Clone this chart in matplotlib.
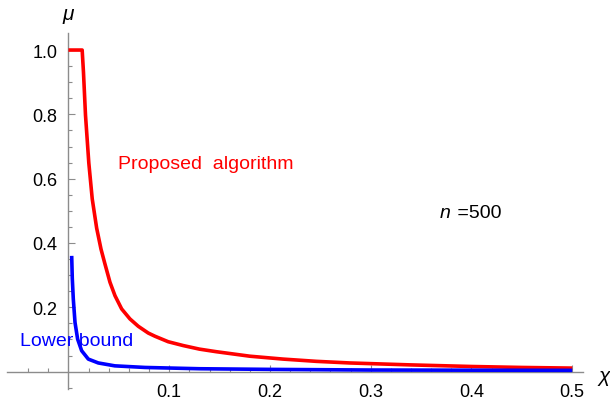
import matplotlib
matplotlib.use("Agg")
import matplotlib.pyplot as plt
from matplotlib.ticker import FixedLocator, NullFormatter

# Data
red_x = [0.0, 0.0136, 0.0149, 0.0169, 0.0202, 0.0236, 0.028, 0.0323, 0.0362, 0.0412,
         0.0462, 0.0528, 0.061, 0.0693, 0.0792, 0.0859, 0.099, 0.114, 0.13, 0.1467,
         0.180, 0.213, 0.246, 0.279, 0.339, 0.40, 0.45, 0.5]
red_y = [1.0, 1.0, 0.931, 0.798, 0.649, 0.537, 0.446, 0.381, 0.335, 0.278,
         0.236, 0.195, 0.164, 0.141, 0.120, 0.110, 0.093, 0.081, 0.070, 0.062,
         0.048, 0.039, 0.032, 0.027, 0.021, 0.016, 0.013, 0.011]

blue_x = [0.0032, 0.0038, 0.0048, 0.0065, 0.0091, 0.0131, 0.0197, 0.0296, 0.046,
          0.076, 0.13, 0.2, 0.3, 0.4, 0.5]
blue_y = [0.360, 0.290, 0.226, 0.153, 0.101, 0.065, 0.039, 0.027, 0.018,
          0.013, 0.009, 0.007, 0.005, 0.0045, 0.004]

x_major = [0.1, 0.2, 0.3, 0.4, 0.5]
x_major_labels = ["0.1", "0.2", "0.3", "0.4", "0.5"]
x_minor = [-0.04, -0.02, 0.02, 0.04, 0.06, 0.08, 0.12, 0.14, 0.16, 0.18,
           0.22, 0.24, 0.26, 0.28, 0.32, 0.34, 0.36, 0.38, 0.42, 0.44, 0.46, 0.48]
y_major = [0.2, 0.4, 0.6, 0.8, 1.0]
y_major_labels = ["0.2", "0.4", "0.6", "0.8", "1.0"]
y_minor = [-0.05, 0.05, 0.1, 0.15, 0.25, 0.3, 0.35, 0.45, 0.5, 0.55,
           0.65, 0.7, 0.75, 0.85, 0.9, 0.95]

plt.rcParams['font.family'] = ['Liberation Sans', 'DejaVu Sans']

W, H = 610, 402
fig = plt.figure(figsize=(W / 100, H / 100), dpi=100)
ax = fig.add_axes([7 / W, (H - 390) / H, 576 / W, 356 / H])
ax.set_xlim(-0.061, 0.5107)
ax.set_ylim(-0.054, 1.053)

gray = '#8c8c8c'
for s in ['top', 'right']:
    ax.spines[s].set_visible(False)
ax.spines['left'].set_position(('data', 0))
ax.spines['bottom'].set_position(('data', 0))
for s in ['left', 'bottom']:
    ax.spines[s].set_color(gray)
    ax.spines[s].set_linewidth(1.0)

ax.plot(red_x, red_y, color='#ff0000', lw=2.6, solid_capstyle='butt',
        solid_joinstyle='round', zorder=3)
ax.plot(blue_x, blue_y, color='#0000ff', lw=2.6, solid_capstyle='butt',
        solid_joinstyle='round', zorder=3)

ax.xaxis.set_major_locator(FixedLocator(x_major))
ax.set_xticklabels(x_major_labels)
ax.xaxis.set_minor_locator(FixedLocator(x_minor))
ax.yaxis.set_major_locator(FixedLocator(y_major))
ax.set_yticklabels(y_major_labels)
ax.yaxis.set_minor_locator(FixedLocator(y_minor))
ax.xaxis.set_minor_formatter(NullFormatter())
ax.yaxis.set_minor_formatter(NullFormatter())

ax.tick_params(which='major', direction='in', length=4.8, width=0.8, color=gray,
               labelsize=13, labelcolor='black')
ax.tick_params(which='minor', direction='in', length=2.8, width=0.8, color=gray)
ax.tick_params(axis='x', which='major', pad=8)
ax.tick_params(axis='y', which='major', pad=8)

ax.text(0.0491, 0.646, "Proposed  algorithm", color='#ff0000', fontsize=14,
        ha='left', va='center')
ax.text(-0.0481, 0.096, "Lower bound", color='#0000ff', fontsize=14,
        ha='left', va='center')
ax.text(0.3687, 0.496, "n", color='black', fontsize=14, style='italic',
        ha='left', va='center')
ax.text(0.3687 + 0.012, 0.496, " =500", color='black', fontsize=14,
        ha='left', va='center')

fig.text(68 / W, 1 - 15 / H, "μ", fontsize=15, style='italic', ha='center', va='center')
fig.text(604 / W, 1 - 377 / H, "χ", fontsize=15, style='italic', ha='center', va='center')

fig.savefig("out.png", dpi=100)
